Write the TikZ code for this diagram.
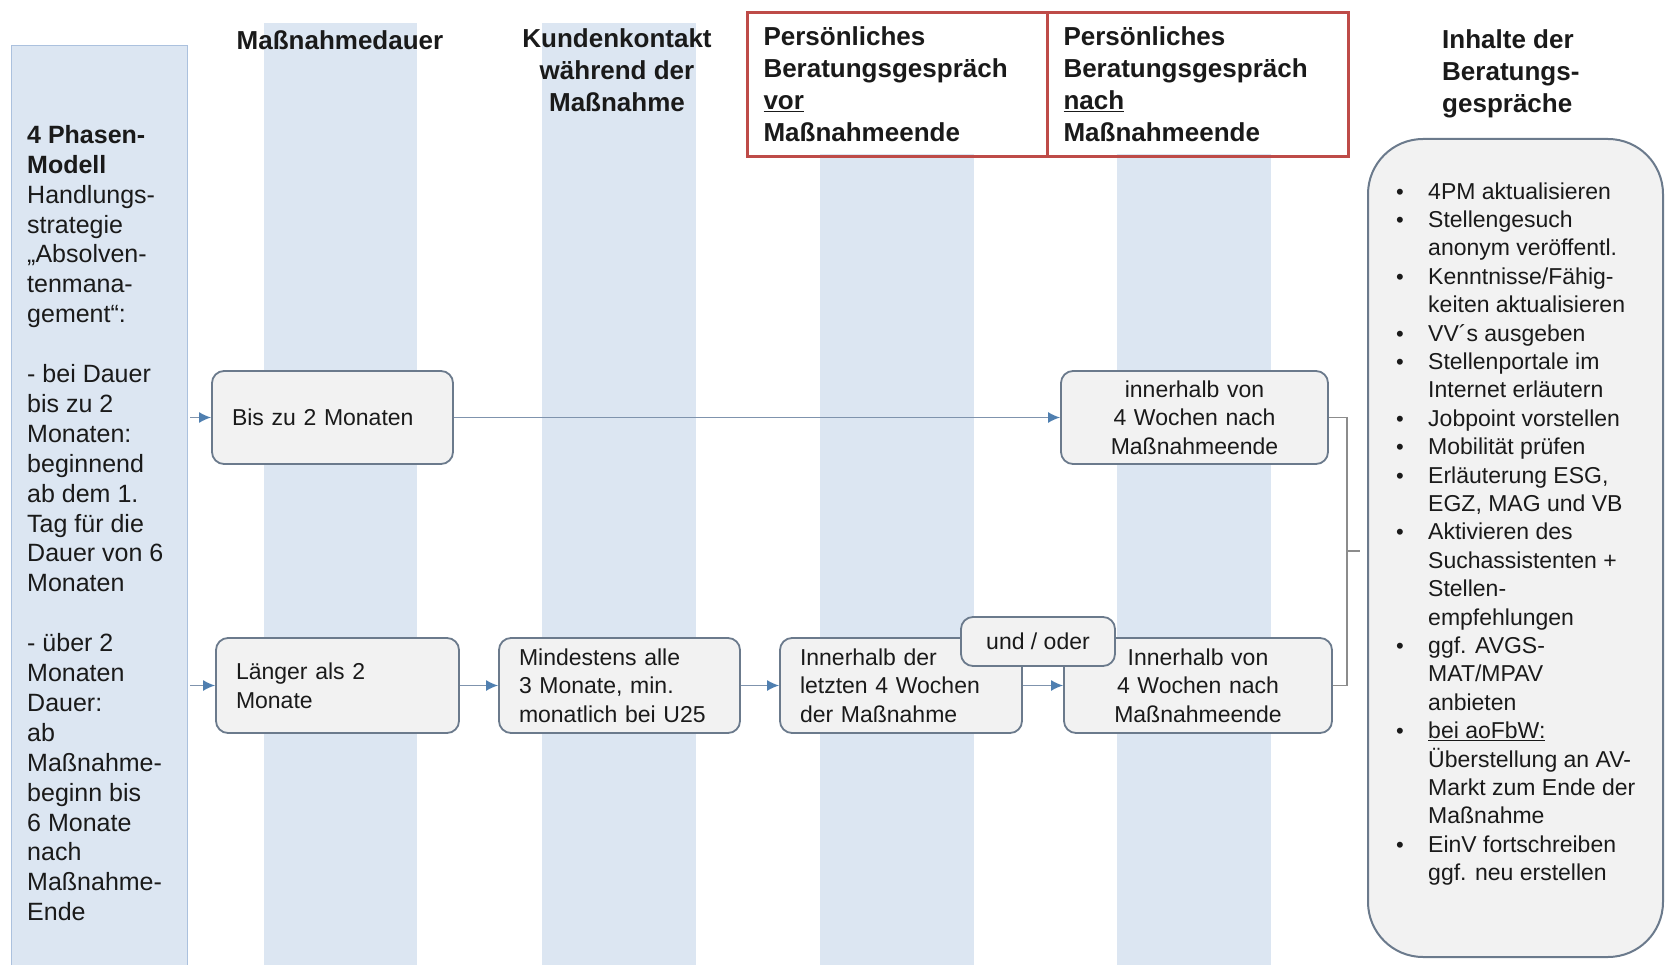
\documentclass[tikz,border=0pt]{standalone}
\usepackage{fontspec}
\setmainfont{Liberation Sans}
\usetikzlibrary{arrows.meta,calc}
\definecolor{stripe}{HTML}{DCE6F2}
\definecolor{leftborder}{HTML}{ABC1DE}
\definecolor{redbox}{HTML}{BE4B48}
\definecolor{boxfill}{HTML}{F2F2F2}
\definecolor{boxdraw}{HTML}{6B7A8C}
\definecolor{arrowc}{HTML}{4F7FB0}
\definecolor{linec}{HTML}{7F93AD}
\definecolor{brkc}{HTML}{8C8C8C}
\definecolor{txt}{HTML}{1A1A1A}
\newcommand{\lbul}{{\fontsize{22}{22}\selectfont\textbullet}}
\begin{document}
\begin{tikzpicture}[x=1pt,y=-1pt,
  redframe/.style={draw=redbox,line width=3pt},
  heading/.style={font=\fontsize{26}{32}\selectfont\bfseries,inner sep=0pt,text=txt},
  flowbox/.style={draw=boxdraw,fill=boxfill,line width=1.8pt,rounded corners=12pt,
     font=\fontsize{23}{28.7}\selectfont,inner xsep=20pt,inner ysep=0pt,text=txt},
  flowarrow/.style={draw=linec,line width=1.6pt,-{Latex[length=12pt,width=11pt,color=arrowc]}},
  bracketline/.style={draw=brkc,line width=1.5pt},
  leftbox/.style={fill=stripe,draw=leftborder,line width=1.5pt,inner sep=0pt},
  lefttext/.style={font=\fontsize{25}{29.9}\selectfont,inner sep=0pt,text=txt},
  rightbox/.style={fill=boxfill,draw=boxdraw,line width=2pt,rounded corners=55pt,inner sep=0pt},
  listtext/.style={font=\fontsize{23}{28.4}\selectfont,inner sep=0pt,text=txt}
]
\useasboundingbox (0,0) rectangle (1665,965);
\fill[white] (0,0) rectangle (1665,965);

% column stripes
\fill[stripe] (264,23) rectangle (417,965);
\fill[stripe] (542,23) rectangle (696,965);
\fill[stripe] (820,154) rectangle (974,965);
\fill[stripe] (1117,154) rectangle (1271,965);

% left box
\node[leftbox,anchor=north west,minimum width=176pt,minimum height=930pt] (LB) at (10.6,45) {};
\node[lefttext,anchor=north west,align=left] (LT) at (27,125) {%
\textbf{4 Phasen-}\\
\textbf{Modell}\\
Handlungs-\\
strategie\\
„Absolven-\\
tenmana-\\
gement“:\\[29.9pt]
- bei Dauer\\
bis zu 2\\
Monaten:\\
beginnend\\
ab dem 1.\\
Tag für die\\
Dauer von 6\\
Monaten\\[29.9pt]
- über 2\\
Monaten\\
Dauer:\\
ab\\
Maßnahme-\\
beginn bis\\
6 Monate\\
nach\\
Maßnahme-\\
Ende};

% red header boxes
\node[redframe,heading,anchor=north west,minimum width=300pt,minimum height=144pt,
      text width=268pt,inner xsep=16pt,align=left] (R1) at (746,10.6)
      {Persönliches\\Beratungsgespräch\\\underline{vor}\\Maßnahmeende};
\node[redframe,heading,anchor=north west,minimum width=301pt,minimum height=144pt,
      text width=269pt,inner xsep=16pt,align=left] (R2) at (1046,10.6)
      {Persönliches\\Beratungsgespräch\\\underline{nach}\\Maßnahmeende};

% headings
\node[heading] (H1) at (340,40) {Maßnahmedauer};
\node[heading,align=center] (H2) at (617,70) {Kundenkontakt\\während der\\Maßnahme};
\node[heading,align=left,anchor=north west] (H5) at (1442,29) {Inhalte der\\Beratungs-\\gespräche};

% right content box
\node[rightbox,anchor=north west,minimum width=295pt,minimum height=818pt] (RB) at (1367,138) {};
\node[listtext,anchor=north west] (L) at (1396,179) {%
\begin{tabular}{@{}p{32pt}@{}l@{}}
\lbul & 4PM aktualisieren\\
\lbul & Stellengesuch\\
 & anonym veröffentl.\\
\lbul & Kenntnisse/Fähig-\\
 & keiten aktualisieren\\
\lbul & VV´s ausgeben\\
\lbul & Stellenportale im\\
 & Internet erläutern\\
\lbul & Jobpoint vorstellen\\
\lbul & Mobilität prüfen\\
\lbul & Erläuterung ESG,\\
 & EGZ, MAG und VB\\
\lbul & Aktivieren des\\
 & Suchassistenten +\\
 & Stellen-\\
 & empfehlungen\\
\lbul & ggf. AVGS-\\
 & MAT/MPAV\\
 & anbieten\\
\lbul & \underline{bei aoFbW:}\\
 & Überstellung an AV-\\
 & Markt zum Ende der\\
 & Maßnahme\\
\lbul & EinV fortschreiben\\
 & ggf. neu erstellen
\end{tabular}};

% flow boxes
\node[flowbox,minimum width=241pt,minimum height=93pt,text width=201pt,align=left] (A) at (332.5,417.5) {Bis zu 2 Monaten};
\node[flowbox,minimum width=267pt,minimum height=93pt,text width=227pt,align=center] (G) at (1194.5,417.5) {innerhalb von\\4 Wochen nach\\Maßnahmeende};
\node[flowbox,minimum width=243pt,minimum height=95pt,text width=203pt,align=left] (B) at (337.5,685.5) {Länger als 2\\Monate};
\node[flowbox,minimum width=241pt,minimum height=95pt,text width=201pt,align=left] (C) at (619.5,685.5) {Mindestens alle\\3 Monate, min.\\monatlich bei U25};
\node[flowbox,minimum width=242pt,minimum height=95pt,text width=202pt,align=left] (D) at (901,685.5) {Innerhalb der\\letzten 4 Wochen\\der Maßnahme};
\node[flowbox,minimum width=268pt,minimum height=95pt,text width=228pt,align=center] (F) at (1198,685.5) {Innerhalb von\\4 Wochen nach\\Maßnahmeende};

% connectors
\coordinate (inA) at (190,417.5);
\coordinate (inB) at (190,685.5);
\draw[flowarrow] (inA) -- (A);
\draw[flowarrow] (A) -- (G);
\draw[flowarrow] (inB) -- (B);
\draw[flowarrow] (B) -- (C);
\draw[flowarrow] (C) -- (D);
\draw[flowarrow] (D) -- (F);

% bracket
\coordinate (bt) at (1347,417.5);
\coordinate (bb) at (1347,685.5);
\coordinate (tk) at (1360,551);
\draw[bracketline] (G.east) -- (bt) -- (bb) -- (F.east);
\draw[bracketline] (bt |- tk) -- (tk);

% und / oder
\node[flowbox,minimum width=154pt,minimum height=49pt,inner xsep=4pt,align=center] (E) at (1038,641.5) {und / oder};
\end{tikzpicture}
\end{document}
